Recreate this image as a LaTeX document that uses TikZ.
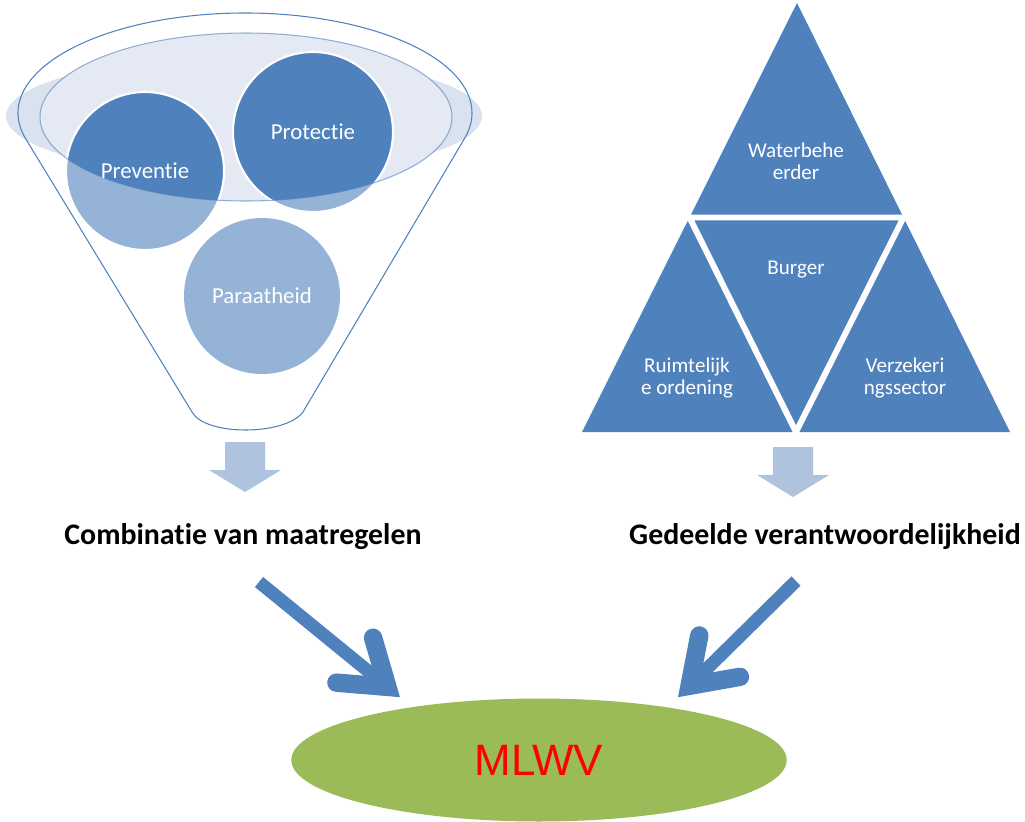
\documentclass[tikz,border=0pt]{standalone}
\usepackage{fontspec}
\setmainfont{Carlito}[Ligatures=NoCommon]
\newfontfamily\mlwvfont{Liberation Sans}
\usetikzlibrary{arrows.meta,calc,positioning,shapes.geometric,backgrounds}

\definecolor{mlblue}{RGB}{79,129,189}
\definecolor{paleblue}{RGB}{149,179,215}
\definecolor{rimfill}{RGB}{228,233,243}
\definecolor{glowfill}{RGB}{218,226,239}
\definecolor{flowgrey}{RGB}{176,195,222}
\definecolor{mlwvgreen}{RGB}{155,187,89}

\tikzset{
    ball/.style={circle, minimum size=89pt, inner sep=0pt, text=white,
        font=\fontsize{13}{15}\selectfont},
    trilabel/.style={text=white, align=center, inner sep=0pt,
        font=\fontsize{12}{12.8}\selectfont},
    result/.style={font=\bfseries\fontsize{17}{20}\selectfont},
    goal/.style={ellipse, fill=mlwvgreen, minimum width=282pt, minimum height=70pt,
        inner sep=0pt, text=red, font=\mlwvfont\fontsize{25}{30}\selectfont},
    funnel/.style={draw=mlblue, line width=0.6pt},
    gap/.style={white, line width=3.4pt},
    downarrow/.style={fill=flowgrey},
    bigarrow/.style={mlblue, line width=7.4pt,
        -{Straight Barb[length=24pt,width=33pt,line width=10.5pt,line cap=round,line join=miter]}}
}

\begin{document}
\begin{tikzpicture}[x=0.02cm, y=-0.02cm]
\useasboundingbox (0,0) rectangle (1025,822);

% funnel with the three measures
\node[ball] (prev) at (145,171) {Preventie};
\node[ball] (prot) at (313,132) {Protectie};
\node[ball] (para) at (262,296) {Paraatheid};

\begin{scope}[on background layer]
    \fill[glowfill] (244,116) ellipse [x radius=238, y radius=60];
    \fill[rimfill] (246,117) ellipse [x radius=206, y radius=84];
    \draw[funnel] (245,113) ++(165:227 and 100)
        arc [start angle=165, end angle=375, x radius=227, y radius=100]
        -- (303,412) .. controls (285,436) and (205,436) .. (192,412) -- cycle;
    \fill[paleblue] (prev.center) circle [radius=79] (prot.center) circle [radius=80]
        (para.center) circle [radius=78];
    \begin{scope}
        \clip (246,117) ellipse [x radius=206, y radius=84];
        \fill[mlblue] (prev.center) circle [radius=79] (prot.center) circle [radius=80];
    \end{scope}
    \draw[white, line width=1.2pt] (prev.center) circle [radius=79]
        (prot.center) circle [radius=80];
    \draw[funnel, opacity=0.6] (246,117) ellipse [x radius=206, y radius=84];
\end{scope}

% triangle of the parties
\fill[mlblue] (797,3) -- (1010,432) -- (582,432) -- cycle;
\draw[gap] (689.5,217.5) -- (903.5,217.5) -- (796,432) -- cycle;

\node[trilabel] (water) at (796,161) {Waterbehe\\erder};
\node[trilabel] (burger) at (796,270) {Burger};
\node[trilabel] (ruimte) at (687,378) {Ruimtelijk\\e ordening};
\node[trilabel] (verzek) at (905,378) {Verzekeri\\ngssector};

% block arrows down
\foreach \x/\y in {245/442, 793/447}
    \fill[downarrow] (\x,\y) ++(-20,0) -- ++(40,0) -- ++(0,28) -- ++(16,0)
        -- ++(-36,22) -- ++(-36,-22) -- ++(16,0) -- cycle;

\node[result] (comb) at (243,537) {Combinatie van maatregelen};
\node[result] (gedeeld) at (825,537) {Gedeelde verantwoordelijkheid};

\node[goal] (mlwv) at (539,760) {MLWV};

\coordinate (combout) at (259,582);
\coordinate (gedout) at (796,581);

\draw[bigarrow] (combout) -- ($(mlwv.north)+(-139,-1)$);
\draw[bigarrow] (gedout) -- ($(mlwv.north)+(139,-1)$);

\end{tikzpicture}
\end{document}
